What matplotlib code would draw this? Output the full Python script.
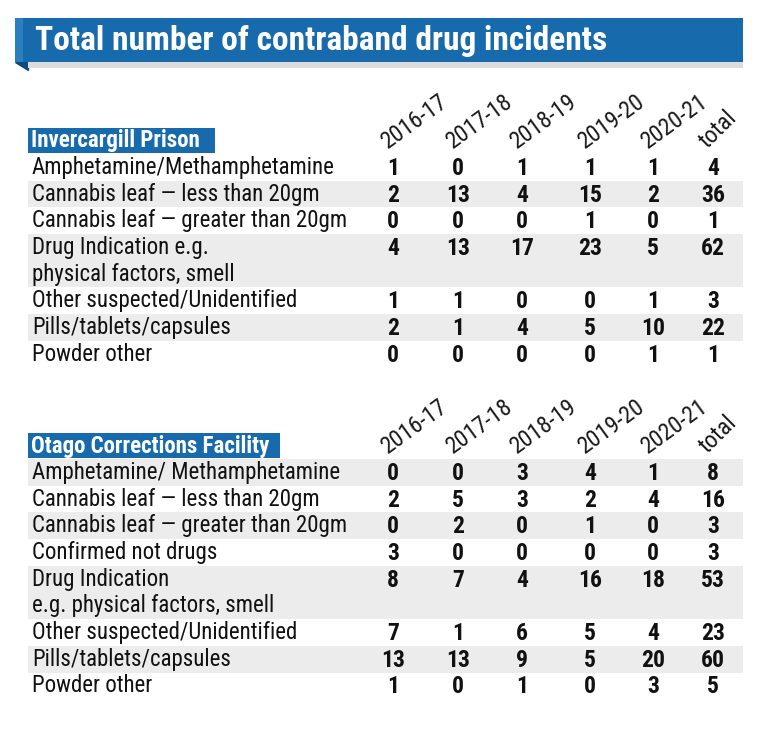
import matplotlib
matplotlib.use('Agg')
import matplotlib.pyplot as plt
from matplotlib.patches import Rectangle, Polygon

plt.rcParams['font.family'] = ['Roboto Condensed', 'Archivo Narrow', 'DejaVu Sans']

title = 'Total number of contraband drug incidents'
years = ['2016-17', '2017-18', '2018-19', '2019-20', '2020-21', 'total']

inv_name = 'Invercargill Prison'
inv_labels = ['Amphetamine/Methamphetamine',
              'Cannabis leaf \u2014 less than 20gm',
              'Cannabis leaf \u2014 greater than 20gm',
              'Drug Indication e.g.\nphysical factors, smell',
              'Other suspected/Unidentified',
              'Pills/tablets/capsules',
              'Powder other']
inv_values = [[1, 0, 1, 1, 1, 4],
              [2, 13, 4, 15, 2, 36],
              [0, 0, 0, 1, 0, 1],
              [4, 13, 17, 23, 5, 62],
              [1, 1, 0, 0, 1, 3],
              [2, 1, 4, 5, 10, 22],
              [0, 0, 0, 0, 1, 1]]

ota_name = 'Otago Corrections Facility'
ota_labels = ['Amphetamine/ Methamphetamine',
              'Cannabis leaf \u2014 less than 20gm',
              'Cannabis leaf \u2014 greater than 20gm',
              'Confirmed not drugs',
              'Drug Indication\ne.g. physical factors, smell',
              'Other suspected/Unidentified',
              'Pills/tablets/capsules',
              'Powder other']
ota_values = [[0, 0, 3, 4, 1, 8],
              [2, 5, 3, 2, 4, 16],
              [0, 2, 0, 1, 0, 3],
              [3, 0, 0, 0, 0, 3],
              [8, 7, 4, 16, 18, 53],
              [7, 1, 6, 5, 4, 23],
              [13, 13, 9, 5, 20, 60],
              [1, 0, 1, 0, 3, 5]]

blue = '#176bad'
grey = '#ececec'
col_x = [393, 458, 522, 590, 653, 713]
row_h = 26.7

fig = plt.figure(figsize=(7.57, 7.45), dpi=100)
ax = fig.add_axes([0, 0, 1, 1])
ax.set_xlim(0, 757)
ax.set_ylim(745, 0)
ax.axis('off')

# title banner with folded corner and shadow
ax.add_patch(Polygon([[15, 62], [28, 62], [28, 70]], closed=True, color='#0d4a80'))
ax.add_patch(Rectangle((28, 62), 715, 6, color='#dcdcdc', lw=0))
ax.add_patch(Rectangle((15, 18), 728, 44, color=blue, lw=0))
ax.add_patch(Rectangle((15, 18), 8, 44, color='#2a7fc0', lw=0))
ax.text(35, 41, title, color='white', fontsize=24, fontweight='bold',
        ha='left', va='center')


def section(box_top, box_w, name, labels, values, grey_first):
    ax.add_patch(Rectangle((28, box_top), box_w, 25, color=blue, lw=0))
    ax.text(31, box_top + 13, name, color='white', fontsize=16.5,
            fontweight='bold', ha='left', va='center')
    for x, yr in zip(col_x, years):
        rot = 45 if yr == 'total' else 36
        ax.text(x - 5, box_top + 21, yr, fontsize=17, rotation=rot,
                rotation_mode='anchor', ha='left', va='baseline', color='#1a1a1a')
    y = box_top + 26
    for i, (lab, vals) in enumerate(zip(labels, values)):
        n = lab.count('\n') + 1
        h = row_h * n
        if (i % 2 == 0) == grey_first:
            ax.add_patch(Rectangle((28, y), 715, h, color=grey, lw=0))
        for k, line in enumerate(lab.split('\n')):
            ax.text(32, y + row_h / 2 + k * row_h, line, fontsize=16.5,
                    ha='left', va='center', color='#111111')
        for x, v in zip(col_x, vals):
            ax.text(x, y + row_h / 2 + 1, str(v), fontsize=17, fontweight='bold',
                    ha='center', va='center', color='#111111')
        y += h


section(128, 187, inv_name, inv_labels, inv_values, False)
section(433, 252, ota_name, ota_labels, ota_values, True)

fig.savefig('out.png', dpi=100, facecolor='white')
